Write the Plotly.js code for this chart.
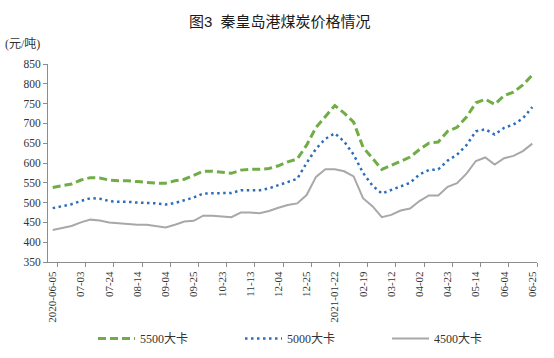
<!DOCTYPE html>
<html>
<head>
<meta charset="utf-8">
<script src="https://cdn.plot.ly/plotly-3.0.1.min.js"></script>
<style>html,body{margin:0;padding:0;background:#fff;}#chart{width:554px;height:358px;}</style>
</head>
<body>
<div id="chart"></div>
<script>
// Weekly dates (categories)
const dates = [
  "2020-06-05","2020-06-12","2020-06-19","2020-07-03","2020-07-10","2020-07-17","2020-07-24","2020-07-31",
  "2020-08-07","2020-08-14","2020-08-21","2020-08-28","2020-09-04","2020-09-11","2020-09-18","2020-09-25",
  "2020-10-09","2020-10-16","2020-10-23","2020-10-30","2020-11-06","2020-11-13","2020-11-20","2020-11-27",
  "2020-12-04","2020-12-11","2020-12-18","2020-12-25","2021-01-08","2021-01-15","2021-01-22","2021-01-29",
  "2021-02-05","2021-02-19","2021-02-26","2021-03-05","2021-03-12","2021-03-19","2021-03-26","2021-04-02",
  "2021-04-09","2021-04-16","2021-04-23","2021-04-30","2021-05-07","2021-05-14","2021-05-21","2021-05-28",
  "2021-06-04","2021-06-11","2021-06-18","2021-06-25"
];
// 5500 kcal
const kcal5500 = [
  538,543,547,557,563,562,557,555,555,553,551,549,549,555,559,568,
  579,579,576,574,582,584,584,586,593,603,610,645,690,717,745,726,
  703,640,613,584,594,604,615,634,650,653,680,690,716,752,761,748,
  770,779,797,822
];
// 5000 kcal
const kcal5000 = [
  486,491,496,504,511,510,504,502,502,500,499,498,495,499,506,513,
  523,524,524,524,531,531,531,536,544,552,560,600,636,661,675,654,
  621,575,543,523,532,540,550,571,582,584,606,621,645,680,685,672,
  689,697,713,741
];
// 4500 kcal
const kcal4500 = [
  431,436,441,450,457,455,450,448,446,444,444,441,437,444,452,454,
  467,467,465,463,475,475,473,479,487,494,498,519,565,584,584,579,
  566,511,491,463,469,480,485,504,518,518,540,549,573,605,614,596,
  612,618,630,649
];
const seriesNames = ["5500大卡","5000大卡","4500大卡"];
// Tick labels shown every 3rd category
const tickLabelIdx = [0,3,6,9,12,15,18,21,24,27,30,33,36,39,42,45,48,51];
const tickLabels = ["2020-06-05","07-03","07-24","08-14","09-04","09-25","10-23","11-13","12-04",
                    "12-25","2021-01-22","02-19","03-12","04-02","04-23","05-14","06-04","06-25"];

const xIdx = dates.map((d,i)=>i);
const serif = "'Liberation Serif','Times New Roman','Noto Sans CJK SC',serif";
const serifCJK = "'Liberation Serif','Noto Sans CJK SC',serif";

const traces = [
  {x:xIdx, y:kcal5500, name:seriesNames[0], mode:"lines", type:"scatter",
   line:{color:"#70AD47", width:3, dash:"8px,4px"}, hoverinfo:"skip"},
  {x:xIdx, y:kcal5000, name:seriesNames[1], mode:"lines", type:"scatter",
   line:{color:"#2E6DB8", width:2.5, dash:"2.5px,3.5px"}, hoverinfo:"skip"},
  {x:xIdx, y:kcal4500, name:seriesNames[2], mode:"lines", type:"scatter",
   line:{color:"#A8A8A8", width:2}, hoverinfo:"skip"}
];

const layout = {
  width:554, height:358,
  margin:{l:48, r:17, t:64, b:96},
  paper_bgcolor:"#fff", plot_bgcolor:"#fff",
  showlegend:true,
  title:{text:"图3  秦皇岛港煤炭价格情况", x:0.505, xanchor:"center", y:1-22/358, yanchor:"middle",
         font:{family:"'Liberation Sans','Noto Sans CJK SC',sans-serif", size:15, color:"#1a1a1a"}},
  xaxis:{
    range:[-0.5, 51.5], showgrid:false, zeroline:false, automargin:false,
    showline:true, linecolor:"#8c8c8c", linewidth:1,
    tickmode:"array", tickvals:tickLabelIdx, ticktext:tickLabels,
    ticks:"", tickangle:-90, ticklabelstandoff:4, tickfont:{family:serif, size:11, color:"#333"},
    minor:{tickmode:"array", tickvals:tickLabelIdx.map(v=>v+0.5), ticks:"outside", ticklen:4, tickcolor:"#8c8c8c", tickwidth:1, showgrid:false}
  },
  yaxis:{
    range:[350,850], dtick:50, tick0:350, showgrid:false, zeroline:false, automargin:false,
    showline:true, linecolor:"#8c8c8c", linewidth:1,
    ticks:"outside", ticklen:4, tickcolor:"#8c8c8c",
    tickfont:{family:serif, size:11.5, color:"#333"}
  },
  legend:{orientation:"h", xref:"container", yref:"container", x:93/554, xanchor:"left", y:1-324/358, yanchor:"top",
          font:{family:serifCJK, size:12, color:"#333"}, itemwidth:37,
          entrywidth:95, entrywidthmode:"pixels", bgcolor:"rgba(0,0,0,0)"},
  annotations:[
    {text:"(元/吨)", xref:"paper", yref:"paper", x:(3-48)/489, xanchor:"left", y:(262-44)/198, yanchor:"middle",
     showarrow:false, font:{family:serifCJK, size:12, color:"#333"}}
  ]
};

Plotly.newPlot("chart", traces, layout, {displayModeBar:false, staticPlot:true});
</script>
</body>
</html>
